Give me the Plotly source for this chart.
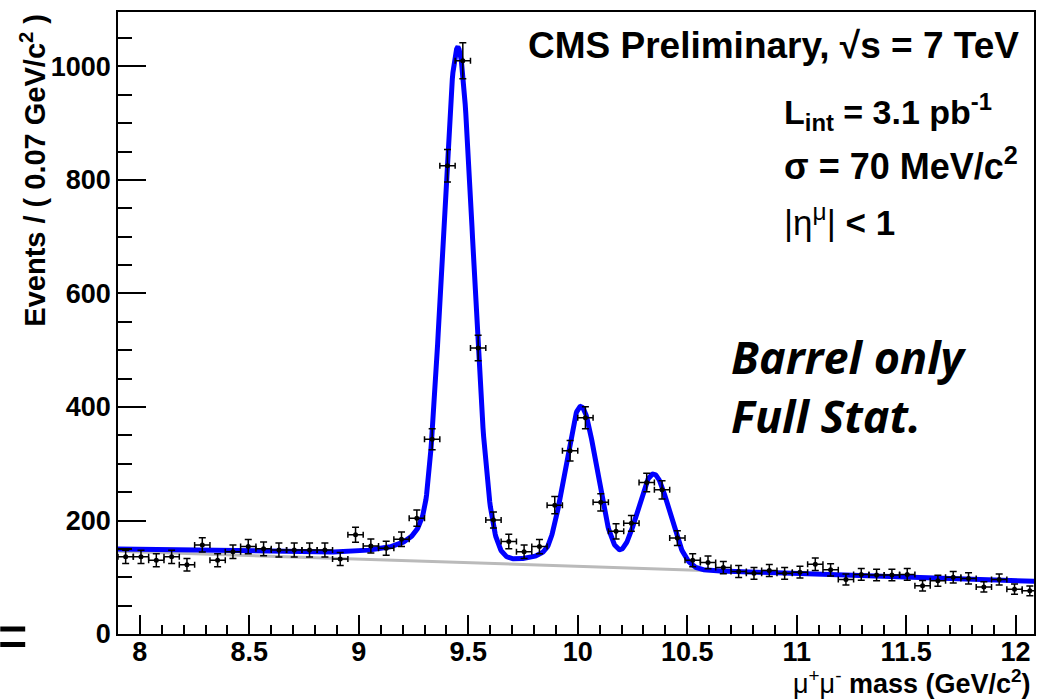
import numpy as np
import plotly.graph_objects as go

# ---- binned dimuon data (bins of 0.07 GeV/c^2 starting at 7.9) ----
bin_low = 7.9
bin_width = 0.07
counts = [136, 136, 130, 136, 122, 157, 130, 145, 154, 150,
          148, 148, 148, 148, 132, 175, 155, 151, 167, 204,
          343, 825, 1010, 504, 201, 163, 145, 154, 227, 323,
          381, 232, 181, 195, 267, 254, 169, 130, 126, 117,
          110, 107, 112, 107, 109, 123, 113, 96, 105, 104,
          104, 105, 85, 94, 100, 98, 83, 96, 79, 76]

# ---- fit model parameters: three Crystal Ball peaks on a linear background ----
peak_mass = [9.452, 10.014, 10.346]
peak_sigma = [0.070, 0.072, 0.073]
peak_height = [903, 278, 167]
cb_alpha = 2.0
cb_n = 1.0
bkg_at_10 = 119.3
bkg_slope = -12.7

x_range = [7.9, 12.084]
y_range = [0, 1096]

centers = bin_low + bin_width * (np.arange(len(counts)) + 0.5)
counts_arr = np.array(counts, dtype=float)
errors = np.sqrt(counts_arr)


def crystal_ball(x, m, s, alpha, n):
    t = (x - m) / s
    a = (n / alpha) ** n * np.exp(-alpha ** 2 / 2)
    b = n / alpha - alpha
    tail = a / np.maximum(b - t, 1e-9) ** n
    return np.where(t > -alpha, np.exp(-t ** 2 / 2), tail)


xs = np.linspace(bin_low, bin_low + bin_width * len(counts), 1500)
background = bkg_at_10 + bkg_slope * (xs - 10.0)
total = background.copy()
for m, s, h in zip(peak_mass, peak_sigma, peak_height):
    total = total + h * crystal_ball(xs, m, s, cb_alpha, cb_n)

fig = go.Figure()
fig.add_trace(go.Scatter(x=xs, y=background, mode="lines",
                         line=dict(color="#bababa", width=3), hoverinfo="skip"))
fig.add_trace(go.Scatter(x=xs, y=total, mode="lines",
                         line=dict(color="#0000ff", width=5), hoverinfo="skip"))
fig.add_trace(go.Scatter(
    x=centers, y=counts_arr, mode="markers",
    marker=dict(color="black", size=5),
    error_y=dict(type="data", array=errors, width=3.5, thickness=1.5, color="black"),
    error_x=dict(type="constant", value=bin_width / 2, width=3, thickness=1.5, color="black"),
))

# plot area in pixels
L, R, T, B = 118, 1036, 12, 634
W, H = 1037, 700


def px(x):
    return (x - L) / (R - L)


def py(y):
    return (B - y) / (B - T)


helv = "Liberation Sans, Arial, Helvetica, sans-serif"
font_b = dict(family=helv, color="black", weight="bold")
label_font = "Open Sans, Lato, sans-serif"

annotations = [
    dict(x=px(1023), y=py(45), xanchor="right", yanchor="middle",
         text="CMS Preliminary, √s = 7 TeV", font=dict(size=37, **font_b)),
    dict(x=px(783), y=py(112), xanchor="left", yanchor="middle",
         text="L<sub>int</sub> = 3.1 pb<sup>-1</sup>", font=dict(size=34, **font_b)),
    dict(x=px(783), y=py(164), xanchor="left", yanchor="middle",
         text="σ = 70 MeV/c<sup>2</sup>", font=dict(size=36, **font_b)),
    dict(x=px(783), y=py(220), xanchor="left", yanchor="middle",
         text="<span style='font-weight:normal'>|η<sup>μ</sup>|</span> &lt; 1",
         font=dict(size=35, **font_b)),
    dict(x=px(730), y=py(356), xanchor="left", yanchor="middle",
         text="<b><i>Barrel only</i></b>",
         font=dict(family=label_font, size=45, color="black")),
    dict(x=px(730), y=py(416), xanchor="left", yanchor="middle",
         text="<b><i>Full Stat.</i></b>",
         font=dict(family=label_font, size=45, color="black")),
    dict(x=px(32), y=py(12), xanchor="center", yanchor="top", textangle=-90,
         text="Events / ( 0.07 GeV/c<sup>2</sup> )", font=dict(size=29, **font_b)),
    dict(x=px(1035), y=py(682), xanchor="right", yanchor="middle",
         text="<span style='font-weight:normal'>μ<sup>+</sup>μ<sup>-</sup></span> mass (GeV/c<sup>2</sup>)",
         font=dict(size=27, **font_b)),
]
for a in annotations:
    a.update(xref="paper", yref="paper", showarrow=False)

shapes = [
    dict(type="rect", xref="paper", yref="paper", x0=px(0), x1=px(25),
         y0=py(631.5), y1=py(626.5), fillcolor="black", line=dict(width=0)),
    dict(type="rect", xref="paper", yref="paper", x0=px(0), x1=px(25),
         y0=py(647), y1=py(642), fillcolor="black", line=dict(width=0)),
]

axis_common = dict(showline=True, linecolor="black", linewidth=1.5, mirror=True,
                   ticks="inside", tickcolor="black", tickwidth=1.5,
                   showgrid=False, zeroline=False,
                   tickfont=dict(family=helv, size=27, color="black", weight="bold"))

fig.update_layout(
    width=W, height=H,
    margin=dict(l=L, r=W - R, t=T, b=H - B, pad=0),
    paper_bgcolor="white", plot_bgcolor="white",
    showlegend=False,
    annotations=annotations, shapes=shapes,
    xaxis=dict(range=x_range, tick0=8, dtick=0.5, ticklen=19, ticklabelstandoff=-7,
               minor=dict(dtick=0.1, tick0=8, ticklen=9, ticks="inside",
                          tickcolor="black", tickwidth=1.5),
               **axis_common),
    yaxis=dict(range=y_range, tick0=0, dtick=200, ticklen=28,
               minor=dict(dtick=50, tick0=0, ticklen=14, ticks="inside",
                          tickcolor="black", tickwidth=1.5),
               **axis_common),
)

fig.write_html("out.html")
